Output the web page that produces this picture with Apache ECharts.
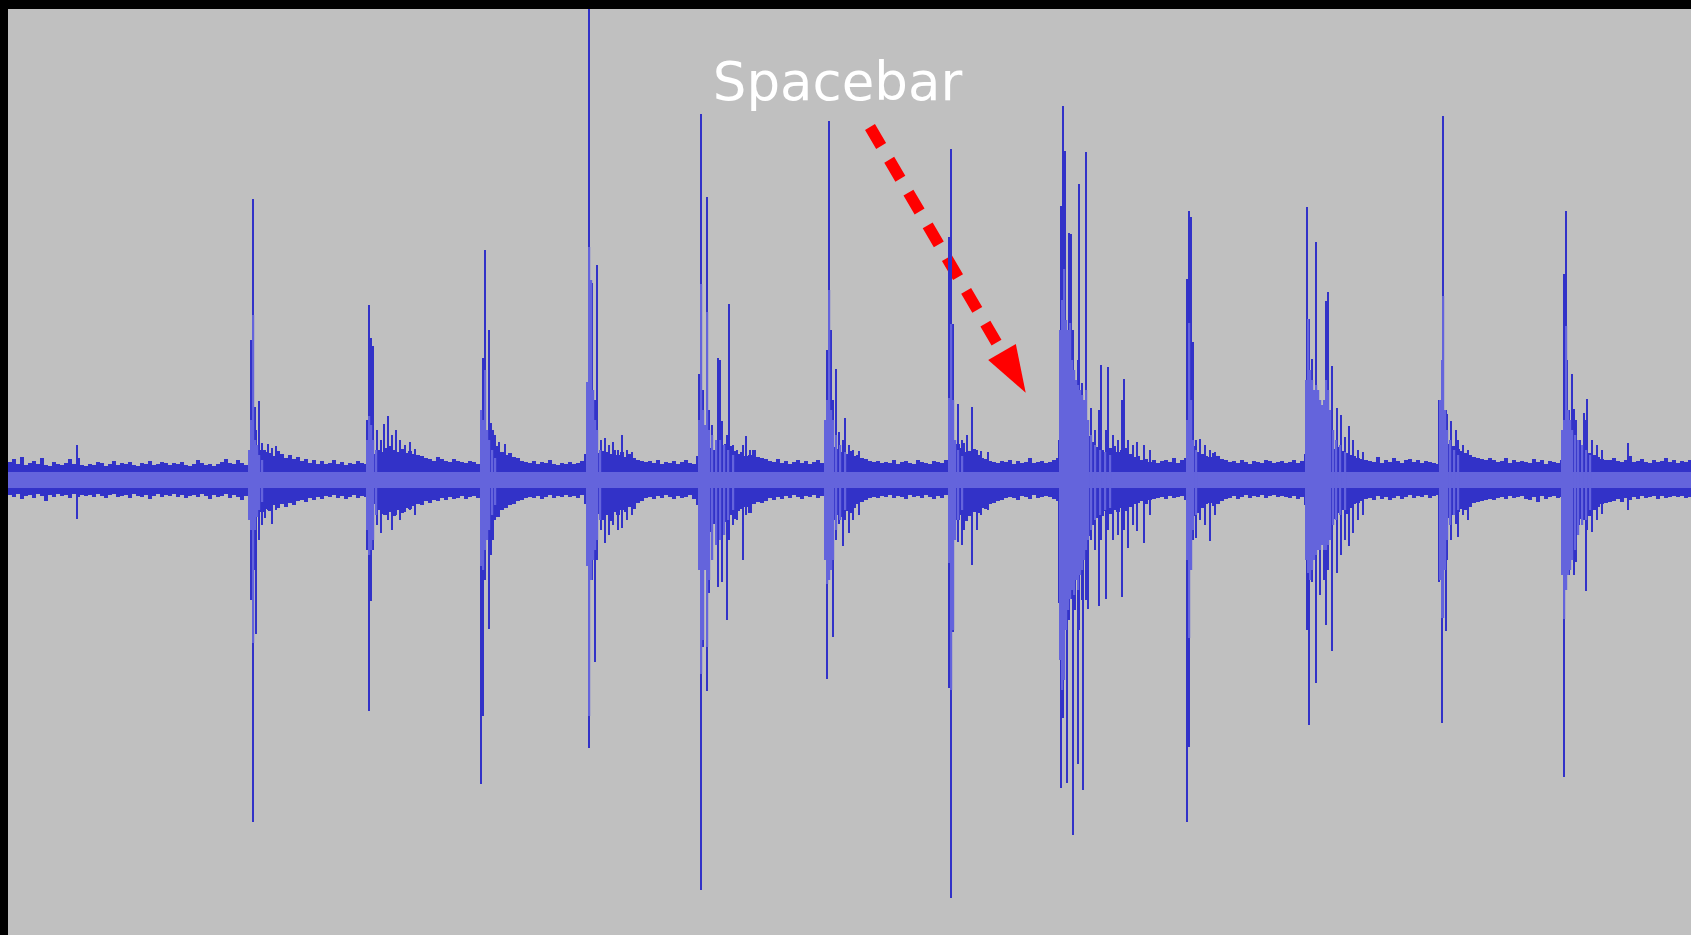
<!DOCTYPE html>
<html><head><meta charset="utf-8">
<script src="https://cdn.jsdelivr.net/npm/echarts/dist/echarts.min.js"></script>
<style>html,body{margin:0;padding:0;background:#000;overflow:hidden}#c{width:1691px;height:935px}</style>
</head><body><div id="c"></div>
<script>
// ---- waveform data (column index t, amplitude in display units, 0 = centre line) ----
const noiseStep = 4; // columns per noise-floor value
const noiseTop = [
18,21,16,23,15,17,19,16,22,15,14,18,16,15,17,21,16,22,15,14,
16,15,18,17,14,16,19,15,17,16,18,15,14,17,16,19,15,16,18,17,
15,17,16,18,15,14,16,20,17,15,16,14,16,18,21,17,16,20,17,15,
18,26,25,30,28,27,24,29,26,22,25,21,23,19,21,17,20,16,19,16,
17,20,16,18,15,17,16,19,17,16,20,26,30,28,32,34,30,28,31,27,
29,26,25,24,22,21,19,23,21,19,18,21,19,18,17,19,18,16,20,26,
30,32,34,28,25,27,23,22,19,18,17,19,16,18,17,20,16,15,17,16,
18,16,17,19,26,30,34,27,29,28,26,30,25,28,23,26,22,20,19,18,
19,17,20,16,18,17,19,16,18,20,17,16,24,34,38,32,30,34,31,36,
34,29,26,28,24,25,30,23,22,21,19,18,21,17,19,16,18,20,17,19,
16,18,20,17,24,30,33,31,28,26,29,24,25,22,21,19,18,19,17,18,
17,20,16,18,19,17,16,20,18,17,16,19,18,17,20,26,30,36,32,28,
29,31,25,22,21,19,18,17,19,18,20,16,19,17,18,22,17,18,19,17,
18,20,22,30,45,55,60,55,48,50,44,38,33,30,26,32,34,28,30,32,
26,23,24,20,21,18,20,17,19,20,18,22,17,20,22,30,34,28,26,24,
23,27,24,21,20,18,19,17,20,18,16,19,18,17,20,19,17,18,19,17,
18,20,17,19,26,38,44,40,36,38,34,31,33,29,27,25,24,22,21,20,
19,18,23,17,20,18,22,19,17,20,21,18,20,17,19,18,17,16,20,30,
36,34,31,29,27,25,23,22,21,20,22,20,18,19,22,17,20,18,19,18,
17,21,18,20,16,19,18,17,20,30,42,36,33,31,29,27,25,23,21,20,
20,22,19,18,20,24,18,19,21,18,17,20,18,19,22,18,20,17,19,18,20
];
const noiseBot = [
15,17,14,19,16,15,18,14,16,21,15,17,14,16,15,18,14,17,15,16,
15,17,14,16,18,15,14,17,16,15,18,14,16,17,15,19,16,14,17,15,
16,14,17,15,18,16,15,17,14,16,19,15,17,16,14,18,15,17,20,16,
20,30,34,32,29,31,25,28,24,27,23,25,21,20,22,18,20,17,19,16,
17,15,18,16,19,17,15,18,16,17,19,24,30,34,35,32,36,30,33,28,
29,26,24,25,21,23,20,21,18,20,17,19,18,16,19,17,16,18,15,24,
34,40,37,30,28,25,24,21,20,18,17,18,16,19,17,15,18,16,17,15,
17,16,18,15,24,34,38,34,40,35,41,32,35,30,32,27,29,23,21,18,
17,19,16,18,15,17,19,16,18,17,15,19,25,40,46,52,44,40,37,42,
35,39,31,29,27,33,24,22,23,21,18,20,17,19,16,18,15,17,19,16,
17,15,18,16,24,32,40,35,37,31,33,28,24,22,20,18,17,18,16,17,
15,18,16,17,19,15,17,16,18,15,17,19,16,18,15,25,37,40,35,41,
36,32,33,28,29,24,23,21,20,18,17,18,20,16,17,19,15,18,17,16,
17,19,21,28,60,75,70,72,64,60,56,45,38,36,31,34,30,32,28,31,
27,24,23,21,24,20,19,18,17,19,16,18,17,16,20,30,36,33,28,24,
23,26,24,21,19,18,16,19,17,15,18,16,17,15,18,16,15,17,16,17,
18,16,19,17,25,42,52,48,42,39,36,39,33,30,34,28,24,23,21,19,
18,20,16,19,17,20,18,16,19,17,15,18,16,17,15,18,16,15,17,30,
38,35,32,29,30,27,23,22,21,20,19,20,18,17,19,16,18,17,16,19,
20,17,22,16,19,17,16,18,17,30,42,48,45,39,35,36,30,27,24,23,
22,21,19,22,18,20,17,19,16,18,17,16,19,16,18,17,16,17,16,18,17
];
const rmsFloor = 8; // light inner band half-height

// peak lines: [column, max, min]
const spikes = [
[69,35,-39],
[243,140,-120],[245,281,-342],[247,73,-90],[248,50,-154],[251,79,-60],[254,37,-45],[257,30,-38],[260,36,-30],[264,32,-44],[268,34,-30],
[359,60,-70],[361,175,-231],[363,142,-121],[365,134,-70],[369,50,-45],[373,40,-53],[376,56,-35],[380,64,-40],[384,45,-50],[388,50,-35],[392,40,-40],[397,35,-32],[402,38,-30],[407,31,-35],
[473,69,-304],[475,122,-236],[477,230,-100],[481,150,-149],[483,57,-75],[485,50,-60],[487,45,-39],[491,38,-30],[497,36,-27],
[579,98,-86],[581,471,-268],[584,197,-100],[587,80,-182],[589,215,-80],[593,40,-50],[597,42,-63],[601,35,-55],[605,38,-45],[610,30,-50],[614,45,-48],[619,30,-40],[624,28,-35],
[691,106,-77],[693,366,-410],[695,90,-167],[699,283,-211],[701,70,-113],[704,55,-50],[710,122,-107],[712,120,-60],[714,59,-102],[719,45,-140],[721,176,-60],[725,35,-45],[729,30,-40],[735,35,-80],[738,44,-35],[742,30,-30],
[819,130,-199],[821,359,-100],[823,150,-90],[825,80,-157],[828,111,-60],[831,48,-44],[835,40,-66],[837,62,-40],[841,35,-53],[845,30,-40],[851,29,-35],
[941,243,-208],[943,331,-418],[945,156,-152],[950,76,-62],[954,40,-65],[956,37,-50],[959,45,-40],[964,73,-85],[969,30,-50],[973,29,-35],[980,28,-30],
[1051,40,-123],[1053,274,-308],[1055,374,-238],[1057,329,-150],[1059,120,-303],[1061,247,-140],[1063,246,-119],[1065,150,-355],[1067,100,-130],[1070,120,-284],[1071,296,-150],[1074,97,-120],[1075,80,-310],[1078,328,-120],[1080,50,-129],[1083,72,-60],[1087,50,-70],[1091,70,-126],[1093,115,-60],[1098,50,-119],[1100,113,-50],[1105,45,-60],[1110,40,-55],[1114,80,-117],[1116,101,-50],[1120,40,-68],[1125,35,-45],[1129,38,-51],[1136,35,-63],[1142,30,-35],
[1179,201,-342],[1181,269,-267],[1183,263,-90],[1185,138,-60],[1188,40,-58],[1192,41,-40],[1197,35,-45],[1202,30,-61],[1207,28,-35],
[1299,273,-150],[1301,161,-245],[1304,121,-102],[1308,238,-203],[1312,68,-115],[1316,80,-100],[1318,179,-145],[1320,188,-90],[1324,114,-171],[1329,72,-93],[1333,65,-75],[1337,43,-60],[1341,54,-66],[1345,40,-53],[1350,30,-40],[1355,28,-35],
[1431,80,-102],[1434,120,-243],[1435,364,-138],[1438,70,-151],[1439,66,-80],[1443,59,-60],[1448,50,-44],[1450,40,-57],[1455,35,-35],[1460,30,-40],
[1554,50,-95],[1556,206,-297],[1558,269,-110],[1559,120,-90],[1561,70,-95],[1564,106,-60],[1566,71,-95],[1568,60,-82],[1572,40,-32],[1576,67,-40],[1578,60,-111],[1579,81,-50],[1584,40,-52],[1589,35,-40],[1594,30,-34],[1620,37,-30]
];

// RMS (light) bursts: [column, up, down]
const bursts = [
[241,30,40],[243,60,50],[245,165,163],[247,40,50],[249,35,37],[251,25,30],[254,20,22],
[359,40,50],[361,64,75],[363,55,70],[365,40,60],[368,30,35],
[473,70,86],[475,60,90],[477,110,70],[479,50,60],[481,40,50],[484,30,35],[487,22,25],
[579,98,86],[581,233,236],[583,200,100],[585,90,80],[587,60,70],[589,50,60],[592,30,40],
[691,60,90],[693,196,194],[695,70,160],[697,55,90],[699,168,167],[701,50,100],[704,45,80],[708,40,65],[712,40,60],[716,35,55],[720,30,40],[725,25,30],
[817,60,80],[819,80,104],[821,190,100],[823,70,90],[825,60,80],[828,45,50],[832,35,40],[837,28,30],
[941,82,83],[943,156,210],[945,80,150],[947,40,60],[950,30,40],[954,24,30],
[1052,150,180],[1054,180,210],[1056,211,200],[1058,160,150],[1060,150,130],[1062,157,119],[1064,120,110],[1066,110,115],[1068,100,100],[1070,95,110],[1072,90,95],[1074,85,90],[1076,80,80],[1078,90,70],[1080,60,60],[1083,45,50],[1087,35,40],[1092,30,35],[1097,28,30],[1102,25,28],
[1179,60,80],[1181,157,158],[1183,80,90],[1185,40,50],[1188,30,35],
[1298,100,80],[1300,161,93],[1302,110,100],[1304,100,90],[1306,90,80],[1308,95,75],[1310,90,70],[1312,80,70],[1314,75,65],[1316,80,70],[1318,100,70],[1320,90,65],[1322,70,60],[1325,50,45],[1328,40,40],[1332,35,35],[1337,28,30],
[1432,80,100],[1434,120,138],[1435,184,138],[1437,70,90],[1439,50,60],[1442,40,45],[1446,30,35],[1450,25,30],
[1554,50,95],[1556,60,139],[1558,154,110],[1560,70,95],[1562,60,90],[1564,50,80],[1567,45,70],[1570,40,55],[1574,35,45],[1578,30,40],[1582,25,30]
];

// annotation (data coordinates)
const labelText = 'Spacebar';
const labelPos = [829.5, 394];
const arrowStart = [862, 353];
const arrowBase = [994, 128];
const arrowTip = [1017.7, 87.3];

const T_MAX = 1683, Y_MIN = -455, Y_MAX = 471;
const DARK = '#3232c8', LIGHT = '#6464dc';

const chart = echarts.init(document.getElementById('c'), null, {renderer: 'canvas'});

function rectItem(p1, p2, fill) {
  return {type: 'rect', shape: {x: Math.min(p1[0], p2[0]), y: Math.min(p1[1], p2[1]),
    width: Math.abs(p2[0] - p1[0]), height: Math.abs(p2[1] - p1[1])}, style: {fill: fill}};
}

chart.setOption({
  animation: false,
  backgroundColor: '#000000',
  grid: {left: 8, top: 9, right: 0, bottom: 0, show: true, backgroundColor: '#c0c0c0', borderWidth: 0, containLabel: false},
  xAxis: {type: 'value', min: 0, max: T_MAX, show: false},
  yAxis: {type: 'value', min: Y_MIN, max: Y_MAX, show: false},
  series: [
    {
      type: 'custom', name: 'noise', silent: true, clip: true,
      data: noiseTop.map((v, i) => [i * noiseStep, v, -noiseBot[i]]),
      encode: {x: 0, y: [1, 2]},
      renderItem: function (params, api) {
        const t = api.value(0);
        return rectItem(api.coord([t, api.value(1)]), api.coord([t + noiseStep, api.value(2)]), DARK);
      }
    },
    {
      type: 'custom', name: 'peaks', silent: true, clip: true,
      data: spikes,
      encode: {x: 0, y: [1, 2]},
      renderItem: function (params, api) {
        const a = api.coord([api.value(0), api.value(1)]);
        const b = api.coord([api.value(0), api.value(2)]);
        return rectItem([a[0] - 1, a[1]], [b[0] + 1, b[1]], DARK);
      }
    },
    {
      type: 'custom', name: 'rmsFloor', silent: true, clip: true,
      data: [[0, T_MAX, rmsFloor]],
      encode: {x: [0, 1], y: 2},
      renderItem: function (params, api) {
        return rectItem(api.coord([api.value(0), api.value(2)]), api.coord([api.value(1), -api.value(2)]), LIGHT);
      }
    },
    {
      type: 'custom', name: 'rms', silent: true, clip: true,
      data: bursts,
      encode: {x: 0, y: [1, 2]},
      renderItem: function (params, api) {
        const a = api.coord([api.value(0), api.value(1)]);
        const b = api.coord([api.value(0), -api.value(2)]);
        return rectItem([a[0] - 1, a[1]], [b[0] + 1.2, b[1]], LIGHT);
      }
    }
  ]
});

const P = d => chart.convertToPixel({gridIndex: 0}, d);
const s = P(arrowStart), b = P(arrowBase), tip = P(arrowTip), lp = P(labelPos);
const dx = tip[0] - b[0], dy = tip[1] - b[1], len = Math.hypot(dx, dy);
const nx = -dy / len, ny = dx / len, half = 16;
chart.setOption({
  graphic: [
    {type: 'line', silent: true, shape: {x1: s[0], y1: s[1], x2: b[0], y2: b[1]},
      style: {stroke: '#ff0000', lineWidth: 11.5, lineDash: [22, 16], lineCap: 'butt'}},
    {type: 'polygon', silent: true,
      shape: {points: [tip, [b[0] + nx * half, b[1] + ny * half], [b[0] - nx * half, b[1] - ny * half]]},
      style: {fill: '#ff0000'}},
    {type: 'text', silent: true, x: lp[0], y: lp[1],
      style: {text: labelText, fill: '#ffffff', font: '53px "DejaVu Sans", Verdana, sans-serif',
        textAlign: 'center', textVerticalAlign: 'middle'}}
  ]
});
</script></body></html>
